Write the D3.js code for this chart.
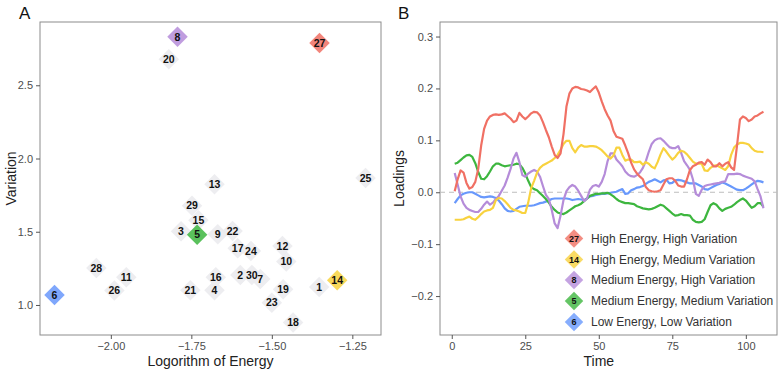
<!DOCTYPE html>
<html>
<head>
<meta charset="utf-8">
<script src="https://cdn.jsdelivr.net/npm/d3@7"></script>
<style>
  body { margin: 0; background: #fff; }
  svg text { font-family: "Liberation Sans", Arial, sans-serif; }
</style>
</head>
<body>
<div id="chart"></div>
<script>
// ---- data: panel A (one entry per component) ----
var pointIds = [1, 2, 3, 4, 5, 6, 7, 8, 9, 10, 11, 12, 13, 14, 15, 16, 17, 18, 19, 20, 21, 22, 23, 24, 25, 26, 27, 28, 29, 30];
var logEnergy = [-1.353, -1.598, -1.782, -1.678, -1.732, -2.175, -1.536, -1.793, -1.668, -1.455,
                 -1.952, -1.467, -1.678, -1.297, -1.728, -1.674, -1.606, -1.434, -1.465, -1.820,
                 -1.753, -1.622, -1.500, -1.565, -1.209, -1.989, -1.352, -2.045, -1.748, -1.562];
var variation = [1.123, 1.205, 1.503, 1.100, 1.480, 1.068, 1.177, 2.831, 1.483, 1.296,
                 1.190, 1.403, 1.824, 1.169, 1.578, 1.190, 1.387, 0.880, 1.107, 2.677,
                 1.100, 1.505, 1.016, 1.369, 1.867, 1.098, 2.788, 1.253, 1.678, 1.205];

// highlighted components
var groupIds = [27, 14, 8, 5, 6];
var groupLabels = ["High Energy, High Variation", "High Energy, Medium Variation",
                   "Medium Energy, High Variation", "Medium Energy, Medium Variation",
                   "Low Energy, Low Variation"];
var groupColors = ["#F07064", "#F8D23E", "#B58CD9", "#3DB63F", "#6898FC"];

// ---- data: panel B loadings, time = 1..106 ----
var loadRed = [0.002, 0.025, 0.042, 0.038, 0.018, 0.007, 0.010, 0.020, 0.045, 0.090,
  0.122, 0.138, 0.146, 0.149, 0.150, 0.149, 0.150, 0.152, 0.147, 0.142,
  0.135, 0.138, 0.153, 0.146, 0.141, 0.146, 0.152, 0.155, 0.154, 0.148,
  0.135, 0.120, 0.106, 0.088, 0.072, 0.066, 0.075, 0.112, 0.165, 0.190,
  0.200, 0.203, 0.202, 0.199, 0.198, 0.196, 0.193, 0.199, 0.204, 0.192,
  0.175, 0.160, 0.148, 0.138, 0.118, 0.107, 0.105, 0.103, 0.090, 0.075,
  0.057, 0.044, 0.036, 0.030, 0.025, 0.010, 0.004, 0.002, 0.001, 0.002,
  0.004, 0.015, 0.025, 0.027, 0.027, 0.022, 0.013, 0.011, 0.011, 0.025,
  0.043, 0.050, 0.053, 0.057, 0.058, 0.053, 0.063, 0.058, 0.050, 0.050,
  0.056, 0.050, 0.055, 0.058, 0.048, 0.043, 0.090, 0.140, 0.146, 0.143,
  0.137, 0.140, 0.146, 0.148, 0.152, 0.155];
var loadYellow = [-0.053, -0.053, -0.053, -0.052, -0.049, -0.047, -0.051, -0.053, -0.048, -0.042,
  -0.037, -0.035, -0.034, -0.030, -0.015, -0.011, -0.012, -0.017, -0.023, -0.030,
  -0.034, -0.035, -0.037, -0.040, -0.040, -0.020, 0.008, 0.022, 0.038, 0.047,
  0.052, 0.055, 0.058, 0.061, 0.066, 0.072, 0.082, 0.093, 0.099, 0.099,
  0.085, 0.077, 0.086, 0.091, 0.088, 0.088, 0.089, 0.089, 0.088, 0.085,
  0.081, 0.075, 0.069, 0.065, 0.071, 0.086, 0.086, 0.072, 0.061, 0.063,
  0.063, 0.058, 0.058, 0.059, 0.053, 0.058, 0.055, 0.049, 0.046, 0.058,
  0.073, 0.085, 0.078, 0.070, 0.063, 0.068, 0.076, 0.080, 0.078, 0.073,
  0.066, 0.059, 0.055, 0.055, 0.055, 0.042, 0.041, 0.047, 0.051, 0.052,
  0.049, 0.046, 0.043, 0.050, 0.072, 0.086, 0.092, 0.095, 0.095, 0.094,
  0.092, 0.085, 0.080, 0.078, 0.078, 0.077];
var loadPurple = [0.037, 0.015, -0.008, -0.022, -0.030, -0.034, -0.036, -0.038, -0.038, -0.032,
  -0.024, -0.018, -0.024, -0.020, -0.013, -0.007, 0.003, 0.013, 0.028, 0.045,
  0.065, 0.076, 0.058, 0.033, 0.030, 0.036, 0.040, 0.043, 0.040, 0.030,
  0.012, -0.005, -0.013, -0.034, -0.060, -0.069, -0.045, -0.015, 0.002, 0.010,
  0.014, 0.011, 0.003, -0.007, -0.017, -0.012, 0.005, 0.012, 0.014, 0.011,
  0.020, 0.035, 0.060, 0.075, 0.075, 0.063, 0.057, 0.050, 0.040, 0.034,
  0.031, 0.030, 0.033, 0.038, 0.047, 0.060, 0.078, 0.093, 0.100, 0.103,
  0.104, 0.099, 0.093, 0.087, 0.085, 0.085, 0.089, 0.076, 0.060, 0.052,
  0.043, 0.025, -0.003, -0.007, 0.005, 0.012, 0.014, 0.015, 0.016, 0.017,
  0.018, 0.020, 0.021, 0.035, 0.035, 0.035, 0.036, 0.035, 0.032, 0.030,
  0.028, 0.026, 0.021, 0.006, -0.008, -0.031];
var loadGreen = [0.055, 0.057, 0.062, 0.067, 0.071, 0.072, 0.068, 0.056, 0.039, 0.026,
  0.025, 0.031, 0.040, 0.050, 0.055, 0.055, 0.052, 0.050, 0.051, 0.052,
  0.053, 0.055, 0.054, 0.047, 0.036, 0.022, 0.010, 0.006, 0.004, -0.002,
  -0.007, -0.013, -0.020, -0.028, -0.034, -0.039, -0.041, -0.042, -0.039, -0.035,
  -0.031, -0.027, -0.025, -0.022, -0.017, -0.012, -0.007, -0.005, -0.003, -0.003,
  -0.002, -0.002, -0.001, -0.004, -0.008, -0.013, -0.017, -0.019, -0.021, -0.021,
  -0.022, -0.023, -0.027, -0.029, -0.031, -0.032, -0.033, -0.032, -0.030, -0.027,
  -0.024, -0.026, -0.031, -0.036, -0.041, -0.045, -0.044, -0.042, -0.044, -0.044,
  -0.045, -0.053, -0.057, -0.058, -0.057, -0.052, -0.038, -0.025, -0.021, -0.024,
  -0.031, -0.036, -0.032, -0.030, -0.028, -0.024, -0.019, -0.015, -0.012, -0.016,
  -0.023, -0.030, -0.027, -0.021, -0.021, -0.028];
var loadBlue = [-0.021, -0.013, -0.006, -0.003, -0.001, 0.000, 0.000, -0.003, -0.006, -0.009,
  -0.010, -0.009, -0.008, -0.009, -0.011, -0.016, -0.023, -0.031, -0.036, -0.037,
  -0.036, -0.032, -0.028, -0.027, -0.026, -0.026, -0.026, -0.025, -0.023, -0.021,
  -0.020, -0.018, -0.016, -0.013, -0.012, -0.012, -0.012, -0.012, -0.012, -0.013,
  -0.015, -0.014, -0.013, -0.014, -0.015, -0.012, -0.008, -0.007, -0.005, -0.004,
  -0.003, -0.003, -0.002, -0.001, 0.000, 0.001, 0.004, 0.006, -0.003, -0.002,
  0.004, 0.006, 0.009, 0.010, 0.012, 0.016, 0.020, 0.022, 0.025, 0.022,
  0.019, 0.023, 0.024, 0.017, 0.018, 0.023, 0.024, 0.023, 0.021, 0.019,
  0.017, 0.017, 0.017, 0.014, 0.011, 0.006, 0.005, 0.008, 0.011, 0.014,
  0.016, 0.019, 0.017, 0.014, 0.011, 0.008, 0.005, 0.004, 0.004, 0.007,
  0.011, 0.015, 0.019, 0.022, 0.021, 0.019];
var loadings = [loadRed, loadYellow, loadPurple, loadGreen, loadBlue];

// tick values
var ticksEnergy = [-2.00, -1.75, -1.50, -1.25];
var ticksVariation = [1.0, 1.5, 2.0, 2.5];
var ticksTime = [0, 25, 50, 75, 100];
var ticksLoad = [-0.2, -0.1, 0.0, 0.1, 0.2, 0.3];

// dimensions
var width = 780,
    height = 370;
var panelA = {left: 40, right: 381, top: 22, bottom: 335};
var panelB = {left: 440, right: 777, top: 22, bottom: 335};
var tickColor = "#4d4d4d";
var frameColor = "#8c8c8c";

var svg = d3.select("#chart")
            .append("svg")
            .attr("width", width)
            .attr("height", height);

function styleAxis(g) {
  g.select(".domain").remove();
  g.selectAll(".tick line").attr("stroke", "#555");
  g.selectAll(".tick text")
   .attr("fill", tickColor)
   .style("font-size", "11px");
}

function frame(p) {
  svg.append("rect")
     .attr("x", p.left).attr("y", p.top)
     .attr("width", p.right - p.left)
     .attr("height", p.bottom - p.top)
     .attr("fill", "none")
     .attr("stroke", frameColor)
     .attr("stroke-width", 1);
}

function diamond(size) {
  return d3.symbol().type(d3.symbolSquare).size(size)();
}

// ================= PANEL A =================
function DrawPanelA() {
  var xScale = d3.scaleLinear().domain([-2.22, -1.161]).range([panelA.left, panelA.right]);
  var yScale = d3.scaleLinear().domain([0.795, 2.932]).range([panelA.bottom, panelA.top]);

  var pts = pointIds.map(function(id, i) {
    return {id: id, x: logEnergy[i], y: variation[i], g: groupIds.indexOf(id)};
  });

  frame(panelA);

  svg.append("g")
     .attr("transform", "translate(0," + panelA.bottom + ")")
     .call(d3.axisBottom(xScale).tickValues(ticksEnergy).tickFormat(d3.format(".2f")).tickSizeOuter(0).tickSize(4))
     .call(styleAxis);
  svg.append("g")
     .attr("transform", "translate(" + panelA.left + ",0)")
     .call(d3.axisLeft(yScale).tickValues(ticksVariation).tickFormat(d3.format(".1f")).tickSizeOuter(0).tickSize(4))
     .call(styleAxis);

  var g = svg.append("g");
  // grey diamonds first, coloured on top
  g.selectAll("path.pt")
   .data(pts.slice().sort(function(a, b) { return (a.g >= 0) - (b.g >= 0); }))
   .enter()
   .append("path")
   .attr("class", "pt")
   .attr("d", diamond(210))
   .attr("transform", function(d) {
     return "translate(" + xScale(d.x) + "," + yScale(d.y) + ") rotate(45)";
   })
   .attr("fill", function(d) { return d.g >= 0 ? groupColors[d.g] : "#ebebee"; })
   .attr("fill-opacity", function(d) { return d.g >= 0 ? 0.85 : 0.9; });

  g.selectAll("text.lab")
   .data(pts)
   .enter()
   .append("text")
   .attr("class", "lab")
   .attr("x", function(d) { return xScale(d.x); })
   .attr("y", function(d) { return yScale(d.y); })
   .attr("dy", "0.36em")
   .attr("text-anchor", "middle")
   .style("font-size", "10.5px")
   .style("font-weight", "bold")
   .attr("fill", "#111")
   .text(function(d) { return d.id; });

  // titles
  svg.append("text")
     .attr("x", (panelA.left + panelA.right) / 2)
     .attr("y", 366)
     .attr("text-anchor", "middle")
     .style("font-size", "14px")
     .attr("fill", "#222")
     .text("Logorithm of Energy");
  svg.append("text")
     .attr("transform", "translate(16," + (panelA.top + panelA.bottom) / 2 + ") rotate(-90)")
     .attr("text-anchor", "middle")
     .style("font-size", "14px")
     .attr("fill", "#222")
     .text("Variation");
  svg.append("text")
     .attr("x", 19).attr("y", 19)
     .style("font-size", "17px")
     .attr("fill", "#111")
     .text("A");
}

// ================= PANEL B =================
function DrawPanelB() {
  var xScale = d3.scaleLinear().domain([-4, 110.6]).range([panelB.left, panelB.right]);
  var yScale = d3.scaleLinear().domain([-0.275, 0.328]).range([panelB.bottom, panelB.top]);

  frame(panelB);

  svg.append("g")
     .attr("transform", "translate(0," + panelB.bottom + ")")
     .call(d3.axisBottom(xScale).tickValues(ticksTime).tickSizeOuter(0).tickSize(4))
     .call(styleAxis);
  svg.append("g")
     .attr("transform", "translate(" + panelB.left + ",0)")
     .call(d3.axisLeft(yScale).tickValues(ticksLoad).tickFormat(d3.format(".1f")).tickSizeOuter(0).tickSize(4))
     .call(styleAxis);

  // zero reference
  svg.append("line")
     .attr("x1", panelB.left).attr("x2", panelB.right)
     .attr("y1", yScale(0)).attr("y2", yScale(0))
     .attr("stroke", "#bdbdbd")
     .attr("stroke-dasharray", "5,4");

  var line = d3.line()
               .x(function(d, i) { return xScale(i + 1); })
               .y(function(d) { return yScale(d); });

  // draw order: blue, green, purple, yellow, red
  [4, 3, 2, 1, 0].forEach(function(k) {
    svg.append("path")
       .datum(loadings[k])
       .attr("fill", "none")
       .attr("stroke", groupColors[k])
       .attr("stroke-width", 2.2)
       .attr("stroke-linejoin", "round")
       .attr("d", line);
  });

  // legend
  var leg = svg.append("g");
  var rowY = [238.5, 259.5, 280, 301, 322];
  groupIds.forEach(function(id, k) {
    var r = leg.append("g").attr("transform", "translate(574," + rowY[k] + ")");
    r.append("path")
     .attr("d", diamond(170))
     .attr("transform", "rotate(45)")
     .attr("fill", groupColors[k])
     .attr("fill-opacity", 0.8);
    r.append("text")
     .attr("dy", "0.36em")
     .attr("text-anchor", "middle")
     .style("font-size", "9px")
     .style("font-weight", "bold")
     .attr("fill", "#111")
     .text(id);
    r.append("text")
     .attr("x", 17)
     .attr("dy", "0.36em")
     .style("font-size", "12px")
     .attr("fill", "#333")
     .text(groupLabels[k]);
  });

  svg.append("text")
     .attr("x", xScale(50))
     .attr("y", 366)
     .attr("text-anchor", "middle")
     .style("font-size", "14px")
     .attr("fill", "#222")
     .text("Time");
  svg.append("text")
     .attr("transform", "translate(404," + (panelB.top + panelB.bottom) / 2 + ") rotate(-90)")
     .attr("text-anchor", "middle")
     .style("font-size", "14px")
     .attr("fill", "#222")
     .text("Loadings");
  svg.append("text")
     .attr("x", 398).attr("y", 19)
     .style("font-size", "17px")
     .attr("fill", "#111")
     .text("B");
}

DrawPanelA();
DrawPanelB();
</script>
</body>
</html>
